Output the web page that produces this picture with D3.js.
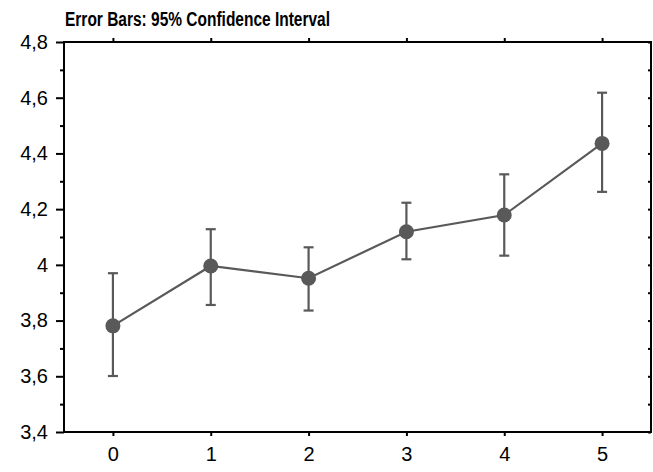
<!DOCTYPE html>
<html>
<head>
<meta charset="utf-8">
<script src="https://cdn.jsdelivr.net/npm/d3@7/dist/d3.min.js"></script>
<style>
  html, body { margin: 0; padding: 0; background: #fff; }
  svg { display: block; }
</style>
</head>
<body>
<svg id="chart" width="653" height="472"></svg>
<script>
// Group means with 95% confidence limits
const groups = [0, 1, 2, 3, 4, 5];
const means = [3.781, 3.996, 3.952, 4.119, 4.179, 4.436];
const lower = [3.601, 3.856, 3.836, 4.020, 4.033, 4.262];
const upper = [3.970, 4.128, 4.063, 4.223, 4.325, 4.618];
const yTicks = [3.4, 3.6, 3.8, 4.0, 4.2, 4.4, 4.6, 4.8];
const yMinorTicks = [3.5, 3.7, 3.9, 4.1, 4.3, 4.5, 4.7];
const title = "Error Bars: 95% Confidence Interval";

const svg = d3.select("#chart");
const plotLeft = 64, plotRight = 651, plotTop = 42, plotBottom = 432;

const x = d3.scaleLinear().domain([-0.5, 5.5]).range([plotLeft, plotRight]);
const y = d3.scaleLinear().domain([3.4, 4.8]).range([plotBottom, plotTop]);

const fmt = v => d3.format("~g")(v).replace(".", ",");
const markColor = "#595959";

// Title
svg.append("text")
  .attr("x", 65).attr("y", 26)
  .attr("font-family", "Liberation Sans, Arial, sans-serif")
  .attr("font-weight", "bold")
  .attr("font-size", 20)
  .attr("textLength", 265)
  .attr("lengthAdjust", "spacingAndGlyphs")
  .attr("fill", "#000")
  .text(title);

// Left axis: major ticks with labels, plus minor ticks
const yAxis = d3.axisLeft(y).tickValues(yTicks).tickFormat(fmt).tickSize(8).tickPadding(8);
const gy = svg.append("g").attr("transform", `translate(${plotLeft},0)`).call(yAxis);
gy.select(".domain").remove();
gy.selectAll("line").attr("stroke", "#000").attr("stroke-width", 2);
gy.selectAll("text")
  .attr("font-family", "Liberation Sans, Arial, sans-serif")
  .attr("font-size", 20).attr("fill", "#000");

const gyMinor = svg.append("g").attr("transform", `translate(${plotLeft},0)`)
  .call(d3.axisLeft(y).tickValues(yMinorTicks).tickFormat("").tickSize(4));
gyMinor.select(".domain").remove();
gyMinor.selectAll("line").attr("stroke", "#000").attr("stroke-width", 2);

// Right axis: inner ticks, no labels
const gr = svg.append("g").attr("transform", `translate(${plotRight},0)`)
  .call(d3.axisLeft(y).tickValues(yTicks.concat(yMinorTicks)).tickFormat("").tickSize(3));
gr.select(".domain").remove();
gr.selectAll("line").attr("stroke", "#000").attr("stroke-width", 2);

// Bottom axis
const gx = svg.append("g").attr("transform", `translate(0,${plotBottom})`)
  .call(d3.axisBottom(x).tickValues(groups).tickFormat(d3.format("d")).tickSize(4).tickPadding(11));
gx.select(".domain").remove();
gx.selectAll("line").attr("stroke", "#000").attr("stroke-width", 2);
gx.selectAll("text")
  .attr("font-family", "Liberation Sans, Arial, sans-serif")
  .attr("font-size", 20).attr("fill", "#000");

// Top axis: outer ticks, no labels
const gt = svg.append("g").attr("transform", `translate(0,${plotTop})`)
  .call(d3.axisTop(x).tickValues(groups).tickFormat("").tickSize(4));
gt.select(".domain").remove();
gt.selectAll("line").attr("stroke", "#000").attr("stroke-width", 2);

// Plot frame
svg.append("rect")
  .attr("x", plotLeft).attr("y", plotTop)
  .attr("width", plotRight - plotLeft).attr("height", plotBottom - plotTop)
  .attr("fill", "none").attr("stroke", "#000").attr("stroke-width", 2);

const rows = groups.map((g, i) => ({ g, m: means[i], lo: lower[i], hi: upper[i] }));

// Connecting line
svg.append("path")
  .datum(rows)
  .attr("fill", "none")
  .attr("stroke", markColor)
  .attr("stroke-width", 2.2)
  .attr("d", d3.line().x(d => x(d.g)).y(d => y(d.m)));

// Error bars
const eb = svg.append("g").attr("stroke", markColor).attr("stroke-width", 2.2);
eb.selectAll(".stem").data(rows).join("line")
  .attr("x1", d => x(d.g)).attr("x2", d => x(d.g))
  .attr("y1", d => y(d.lo)).attr("y2", d => y(d.hi));
eb.selectAll(".capHi").data(rows).join("line")
  .attr("x1", d => x(d.g) - 5).attr("x2", d => x(d.g) + 5)
  .attr("y1", d => y(d.hi)).attr("y2", d => y(d.hi));
eb.selectAll(".capLo").data(rows).join("line")
  .attr("x1", d => x(d.g) - 5).attr("x2", d => x(d.g) + 5)
  .attr("y1", d => y(d.lo)).attr("y2", d => y(d.lo));

// Mean markers
svg.append("g").selectAll("circle").data(rows).join("circle")
  .attr("cx", d => x(d.g)).attr("cy", d => y(d.m))
  .attr("r", 7.5)
  .attr("fill", markColor);
</script>
</body>
</html>
